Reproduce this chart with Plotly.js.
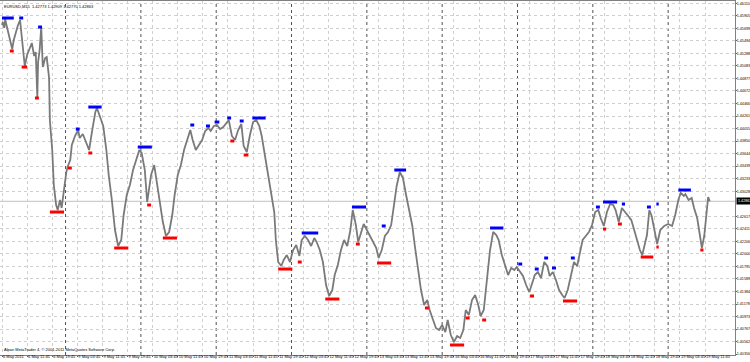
<!DOCTYPE html>
<html>
<head>
<meta charset="utf-8">
<script src="https://cdn.plot.ly/plotly-3.0.1.min.js"></script>
<style>
html,body{margin:0;padding:0;background:#fff;}
#chart{width:750px;height:362px;}
</style>
</head>
<body>
<div id="chart"></div>
<script>
// ---- data (bar index = M15 bars since 6 May 2011 03:45) ----
const barIdx = [0,1,3,4,6,9,11,13,15,18,20,23,25,28,29,32,36,38,41,43,45,46,48,50,52,55,57,60,61,64,66,69,71,74,76,79,82,84,87,89,93,97,99,103,107,111,115,119,121,125,129,133,136,140,144,148,152,155,159,163,167,171,175,178,182,185,187,190,194,198,201,205,209,213,217,220,224,228,232,236,240,243,247,251,255,259,263,266,270,274,278,282,285,289,293,297,301,305,308,312,316,320,324,328,331,335,339,343,347,349,352,356,359,363,367,371,375,379,382,386,390,394,398,401,405,409,413,417,421,424,428,432,436,440,444,447,451,454,458,461,465,469,473,477,480,484,488,492,496,500,503,507,511,515,519,523,526,530,534,538,542,545,549,553,557,561,565,568,572,576,580,584,588,591,595,599,603,607,610,614,618,622,626,630,633,637,641,645,649,653,656,660,664,668,672,675,679,683,687,691,695,698,702,706,710,714,717,721,725,729,733,737,740,744,748,752,756,760,763,767,771,775,779,782,786,790,794,798,802,805,809,813,816,820,822,825,828,832,835,839,844,849,854,858,862,865,869,871,875,879,882,886,890,892,895,898,900,902];
const price = [1.45754,1.45803,1.45705,1.45852,1.45738,1.45574,1.45426,1.45360,1.45508,1.45672,1.45738,1.45836,1.45574,1.45262,1.45082,1.45262,1.45410,1.45459,1.45246,1.45311,1.44573,1.45147,1.45344,1.45721,1.45065,1.45213,1.45229,1.44885,1.44196,1.43704,1.43130,1.42802,1.42720,1.42884,1.42753,1.43048,1.43343,1.43442,1.43540,1.43786,1.43934,1.44032,1.43901,1.43966,1.43835,1.43704,1.44032,1.44327,1.44393,1.44262,1.44098,1.43704,1.43294,1.42884,1.42392,1.42130,1.42228,1.42638,1.42966,1.43130,1.43376,1.43540,1.43704,1.43655,1.43376,1.42851,1.43048,1.43294,1.43458,1.43130,1.42884,1.42523,1.42294,1.42359,1.42638,1.42966,1.43294,1.43458,1.43704,1.43868,1.44032,1.43868,1.43704,1.43786,1.43868,1.44016,1.44065,1.44016,1.44098,1.44114,1.44048,1.44081,1.44130,1.44196,1.43934,1.43868,1.44032,1.44130,1.43770,1.43671,1.43950,1.44163,1.44196,1.44098,1.43934,1.43622,1.43294,1.43048,1.42687,1.42228,1.41867,1.41802,1.41900,1.41982,1.41867,1.42064,1.42146,1.41966,1.42228,1.42294,1.42228,1.42130,1.42261,1.42195,1.42064,1.41867,1.41490,1.41310,1.41408,1.41654,1.41818,1.42064,1.42228,1.42130,1.42392,1.42720,1.42474,1.42195,1.42359,1.42490,1.42392,1.42294,1.42195,1.42097,1.41933,1.42064,1.42294,1.42359,1.42474,1.42802,1.43114,1.43343,1.43245,1.42966,1.42720,1.42458,1.42146,1.41736,1.41408,1.41162,1.41244,1.41080,1.40916,1.40785,1.40752,1.40834,1.40719,1.40916,1.40670,1.40555,1.40654,1.40621,1.40752,1.41080,1.40998,1.41244,1.41326,1.41162,1.40982,1.41080,1.41572,1.42064,1.42359,1.42310,1.42228,1.41982,1.41818,1.41654,1.41769,1.41736,1.41785,1.41703,1.41638,1.41490,1.41375,1.41490,1.41654,1.41703,1.41605,1.41867,1.41802,1.41638,1.41703,1.41572,1.41408,1.41326,1.41277,1.41408,1.41654,1.41867,1.41802,1.42064,1.42228,1.42294,1.42359,1.42474,1.42687,1.42720,1.42589,1.42458,1.42687,1.42818,1.42802,1.42720,1.42523,1.42753,1.42687,1.42638,1.42556,1.42425,1.42261,1.42064,1.41982,1.42195,1.42310,1.42720,1.42622,1.42359,1.42162,1.42392,1.42458,1.42490,1.42458,1.42638,1.42884,1.42999,1.42950,1.42982,1.42884,1.42917,1.42753,1.42589,1.42228,1.42097,1.42294,1.42654,1.42933,1.42863];

// swing-high markers (blue) and swing-low markers (red)
const blueStart = [0,22,46,94,110,173,240,260,271,287,303,319,382,446,484,500,622,658,679,691,701,725,757,766,790,822,834,862];
const blueEnd   = [15,27,51,99,127,191,245,265,277,292,308,336,403,464,489,515,639,663,684,696,706,730,762,784,794,827,837,878];
const bluePrice = [1.45869,1.45869,1.45721,1.44048,1.44409,1.43753,1.44114,1.44098,1.44163,1.44229,1.44180,1.44229,1.42343,1.42769,1.42458,1.43376,1.42425,1.41834,1.41752,1.41933,1.41769,1.41933,1.42769,1.42851,1.42818,1.42769,1.42818,1.43048];
const redStart = [10,25,42,61,84,110,143,185,205,291,308,352,377,412,451,478,539,571,591,612,673,715,766,785,814,834,890];
const redEnd   = [15,32,47,79,89,115,161,190,223,296,314,370,382,430,456,496,544,589,596,617,678,733,770,790,830,837,894];
const redPrice = [1.45328,1.45065,1.44557,1.42687,1.43409,1.43655,1.42097,1.42802,1.42261,1.43852,1.43622,1.41752,1.41867,1.41260,1.42162,1.41851,1.41113,1.40506,1.40949,1.40916,1.41310,1.41228,1.42408,1.42490,1.41949,1.42113,1.42064];

// axis labels
const xTickBars = [0,32,64,96,128,160,192,224,256,288,320,352,384,416,448,480,512,544,576,608,640,672,704,736,768,800,832,864,896];
const xTickLabels = ["6 May 2011","6 May 11:45","6 May 19:45","9 May 03:45","9 May 11:45","9 May 19:45","10 May 03:45","10 May 11:45","10 May 19:45","11 May 03:45","11 May 11:45","11 May 19:45","12 May 03:45","12 May 11:45","12 May 19:45","13 May 03:45","13 May 11:45","13 May 19:45","16 May 03:45","16 May 11:45","16 May 19:45","17 May 03:45","17 May 11:45","17 May 19:45","18 May 03:45","18 May 11:45","18 May 19:45","19 May 03:45","19 May 11:45"];
const daySeparators = [81,177,273,369,465,561,657,753,849];
const yTickLabels = ["1.46110","1.45905","1.45699","1.45494","1.45288","1.45083","1.44877","1.44672","1.44466","1.44261","1.44055","1.43850","1.43644","1.43439","1.43233","1.43028","1.42617","1.42411","1.42206","1.42000","1.41795","1.41589","1.41384","1.41178","1.40973","1.40767","1.40562","1.40356"];
const lastPrice = 1.42863;
const headerText = "EURUSD,M15  1.42773 1.42909 1.42770 1.42863";
const footerText = "Alpari MetaTrader 4, © 2001-2011 MetaQuotes Software Corp.";

// ---- build traces ----
function segments(xs, xe, ys) {
  const x = [], y = [];
  for (let i = 0; i < xs.length; i++) {
    x.push(xs[i], xe[i], null);
    y.push(ys[i], ys[i], null);
  }
  return {x, y};
}
const bSeg = segments(blueStart, blueEnd, bluePrice);
const rSeg = segments(redStart, redEnd, redPrice);

const traces = [
  {type:'scatter', mode:'lines', x: barIdx, y: price,
   line:{color:'#7a7a7a', width:1.8}, hoverinfo:'skip'},
  {type:'scatter', mode:'lines', x: bSeg.x, y: bSeg.y,
   line:{color:'#0000ff', width:3}, hoverinfo:'skip'},
  {type:'scatter', mode:'lines', x: rSeg.x, y: rSeg.y,
   line:{color:'#ff0000', width:3}, hoverinfo:'skip'}
];

const shapes = daySeparators.map(d => ({
  type:'line', xref:'x', yref:'paper', x0:d, x1:d, y0:0, y1:1,
  line:{color:'#505050', width:1, dash:'dot'}, layer:'below'
}));
shapes.push({type:'line', xref:'paper', yref:'y', x0:0, x1:1, y0:lastPrice, y1:lastPrice,
  line:{color:'#c0c0c0', width:1}, layer:'below'});

const fnt = {family:'"Liberation Sans", Arial, sans-serif', size:4, color:'#000'};
const yfnt = {family:'"Liberation Sans", Arial, sans-serif', size:3.7, color:'#000'};

const layout = {
  width:750, height:362,
  margin:{l:0, r:15, t:1, b:7, pad:0},
  paper_bgcolor:'#ffffff', plot_bgcolor:'#ffffff',
  showlegend:false,
  font: fnt,
  xaxis:{
    range:[-2.55, 934.2], fixedrange:true,
    tickmode:'array', tickvals: xTickBars, ticktext: xTickLabels,
    tickangle:0,
    ticklabelposition:'outside right',
    ticks:'outside', ticklen:1, tickcolor:'#606060',
    ticklabelstandoff:-3,
    tickfont: fnt,
    showgrid:true, gridcolor:'#cfcfcf', griddash:'dot', gridwidth:1,
    zeroline:false, showline:true, mirror:true, linecolor:'#808080', linewidth:1
  },
  yaxis:{
    side:'right',
    range:[1.40342, 1.46148], fixedrange:true,
    tickmode:'array', tickvals: yTickLabels.map(Number), ticktext: yTickLabels,
    ticks:'outside', ticklen:1, tickcolor:'#606060',
    ticklabelstandoff:-1,
    tickfont: yfnt,
    showgrid:true, gridcolor:'#cfcfcf', griddash:'dot', gridwidth:1,
    zeroline:false, showline:true, linecolor:'#808080', linewidth:1
  },
  shapes: shapes,
  annotations:[
    {xref:'paper', yref:'paper', x:0, y:1, xanchor:'left', yanchor:'top',
     xshift:2, yshift:-1, text: headerText, showarrow:false, font: fnt},
    {xref:'paper', yref:'paper', x:0, y:0, xanchor:'left', yanchor:'bottom',
     xshift:2, yshift:1, text: footerText, showarrow:false, font: fnt},
    {xref:'paper', yref:'y', x:1, y:lastPrice, xanchor:'left', yanchor:'middle',
     xshift:1, text: lastPrice.toFixed(5), showarrow:false, bgcolor:'#000000',
     borderpad:1, font:{family:fnt.family, size:3.7, color:'#ffffff'}}
  ]
};

Plotly.newPlot('chart', traces, layout, {staticPlot:true, displayModeBar:false});
</script>
</body>
</html>
